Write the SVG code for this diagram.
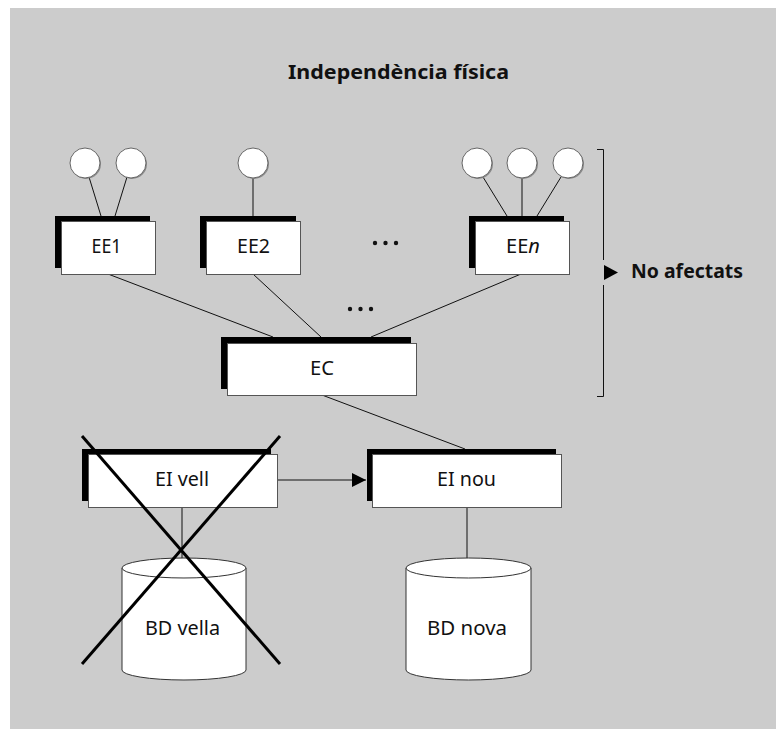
<svg xmlns="http://www.w3.org/2000/svg" width="776" height="729" viewBox="0 0 776 729">
<style>
  .bg { fill: #ffffff; }
  .panel { fill: #cccccc; }
  .shadow { fill: #000000; }
  .box { fill: #ffffff; stroke: #555555; stroke-width: 1; }
  .circ { fill: #ffffff; stroke: #666666; stroke-width: 1; }
  .csh { fill: #8a8a8a; }
  .cyl { fill: #ffffff; stroke: #333333; stroke-width: 1; }
  .ln { stroke: #111111; stroke-width: 1; fill: none; }
  .cross { stroke: #000000; stroke-width: 3; fill: none; }
  .lbl { font-family: "Noto Sans", "Open Sans", "DejaVu Sans", sans-serif; font-size: 20px; fill: #111111; text-anchor: middle; }
  .bold { font-family: "Noto Sans", "Open Sans", "DejaVu Sans", sans-serif; font-size: 20px; font-weight: bold; fill: #111111; }
  .dots { fill: #111111; }
</style>
<defs>
  <marker id="arr" markerWidth="14" markerHeight="14" refX="14" refY="7" orient="auto" markerUnits="userSpaceOnUse">
    <path d="M0,0 L14,7 L0,14 Z" fill="#000000"/>
  </marker>
</defs>
<rect class="bg" x="0" y="0" width="776" height="729"/>
<rect class="panel" x="10" y="8" width="766" height="721"/>

<text class="bold" x="398.5" y="79" text-anchor="middle" textLength="221" lengthAdjust="spacingAndGlyphs">Independència física</text>

<g id="connectors">
  <line class="ln" x1="89" y1="177" x2="101" y2="216"/>
  <line class="ln" x1="127" y1="177" x2="115" y2="216"/>
  <line class="ln" x1="253" y1="178" x2="253" y2="216"/>
  <line class="ln" x1="483" y1="177" x2="507" y2="216"/>
  <line class="ln" x1="522" y1="178" x2="522" y2="216"/>
  <line class="ln" x1="561" y1="177" x2="537" y2="216"/>
  <line class="ln" x1="108" y1="274" x2="273" y2="337"/>
  <line class="ln" x1="253" y1="274" x2="321" y2="337"/>
  <line class="ln" x1="521" y1="274" x2="371" y2="337"/>
  <line class="ln" x1="322" y1="395" x2="465" y2="449"/>
  <line class="ln" x1="277" y1="480" x2="366" y2="480" marker-end="url(#arr)"/>
  <line class="ln" x1="182" y1="507" x2="182" y2="559" stroke="#555555"/>
  <line class="ln" x1="467" y1="507" x2="467" y2="558"/>
</g>

<g id="ee1-c1"><circle class="csh" cx="86" cy="164" r="15"/><circle class="circ" cx="85" cy="163" r="15"/></g>
<g id="ee1-c2"><circle class="csh" cx="132" cy="164" r="15"/><circle class="circ" cx="131" cy="163" r="15"/></g>
<g id="ee2-c1"><circle class="csh" cx="254" cy="164" r="15"/><circle class="circ" cx="253" cy="163" r="15"/></g>
<g id="een-c1"><circle class="csh" cx="478" cy="164" r="15"/><circle class="circ" cx="477" cy="163" r="15"/></g>
<g id="een-c2"><circle class="csh" cx="523" cy="164" r="15"/><circle class="circ" cx="522" cy="163" r="15"/></g>
<g id="een-c3"><circle class="csh" cx="569" cy="164" r="15"/><circle class="circ" cx="568" cy="163" r="15"/></g>

<g id="EE1">
  <rect class="shadow" x="55" y="216" width="95" height="52"/>
  <rect class="box" x="61.5" y="221.5" width="94" height="53"/>
  <text class="lbl" x="106.5" y="253" textLength="30" lengthAdjust="spacingAndGlyphs">EE1</text>
</g>
<g id="EE2">
  <rect class="shadow" x="200" y="216" width="96" height="52"/>
  <rect class="box" x="206.5" y="221.5" width="94" height="53"/>
  <text class="lbl" x="253.5" y="253" textLength="33" lengthAdjust="spacingAndGlyphs">EE2</text>
</g>
<g id="dots1">
  <circle class="dots" cx="375" cy="243" r="2.2"/>
  <circle class="dots" cx="385.5" cy="243" r="2.2"/>
  <circle class="dots" cx="396" cy="243" r="2.2"/>
</g>
<g id="EEn">
  <rect class="shadow" x="469" y="216" width="95" height="52"/>
  <rect class="box" x="475.5" y="221.5" width="94" height="53"/>
  <text class="lbl" x="523" y="253">EE<tspan font-style="italic">n</tspan></text>
</g>
<g id="dots2">
  <circle class="dots" cx="350" cy="309" r="2.2"/>
  <circle class="dots" cx="360.5" cy="309" r="2.2"/>
  <circle class="dots" cx="371" cy="309" r="2.2"/>
</g>

<g id="bracket">
  <path class="ln" d="M597,149.5 H603.5 V260 M603.5,285 V396.5 H597"/>
  <path d="M604,265 L618,272.5 L604,280 Z" fill="#000000"/>
  <text class="bold" x="631" y="278" textLength="112" lengthAdjust="spacingAndGlyphs">No afectats</text>
</g>

<g id="EC">
  <rect class="shadow" x="221" y="337" width="190" height="52"/>
  <rect class="box" x="227.5" y="343.5" width="189" height="52"/>
  <text class="lbl" x="322" y="375" textLength="24" lengthAdjust="spacingAndGlyphs">EC</text>
</g>

<g id="EIvell">
  <rect class="shadow" x="82" y="449" width="189" height="52"/>
  <rect class="box" x="88.5" y="454.5" width="189" height="53"/>
  <text class="lbl" x="182" y="486" textLength="54" lengthAdjust="spacingAndGlyphs">EI vell</text>
</g>
<g id="EInou">
  <rect class="shadow" x="367" y="449" width="189" height="52"/>
  <rect class="box" x="372.5" y="454.5" width="189" height="53"/>
  <text class="lbl" x="466.5" y="486" textLength="59" lengthAdjust="spacingAndGlyphs">EI nou</text>
</g>

<g id="BDvella">
  <path class="cyl" d="M122,568 A62,10 0 0 1 246,568 V670 A62,10 0 0 1 122,670 Z"/>
  <path class="cyl" d="M122,568 A62,10 0 0 0 246,568" fill="none"/>
  <text class="lbl" x="182.5" y="635" textLength="75" lengthAdjust="spacingAndGlyphs">BD vella</text>
</g>
<g id="BDnova">
  <path class="cyl" d="M406,568 A62.5,10 0 0 1 531,568 V670 A62.5,10 0 0 1 406,670 Z"/>
  <path class="cyl" d="M406,568 A62.5,10 0 0 0 531,568" fill="none"/>
  <text class="lbl" x="467" y="635" textLength="80" lengthAdjust="spacingAndGlyphs">BD nova</text>
</g>

<g id="cross">
  <line class="cross" x1="82" y1="436" x2="280" y2="664"/>
  <line class="cross" x1="280" y1="436" x2="82" y2="664"/>
</g>
</svg>
